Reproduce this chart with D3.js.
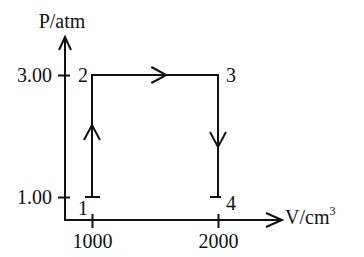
<!DOCTYPE html>
<html><head><meta charset="utf-8">
<script src="https://cdn.jsdelivr.net/npm/d3@7"></script>
<style>html,body{margin:0;padding:0;background:#fff;}svg{display:block;}</style>
</head><body>
<svg id="c" width="364" height="257"></svg>
<script>
// Data
const stateLabels = ["1", "2", "3", "4"];
const volumes = [1000, 1000, 2000, 2000];     // cm^3
const pressures = [1.00, 3.00, 3.00, 1.00];   // atm
const xTicks = [1000, 2000];
const yTicks = [1.00, 3.00];
const xTickLabels = ["1000", "2000"];
const yTickLabels = ["3.00", "1.00"].reverse();

const svg = d3.select("#c");
const ink = "#111";
const font = "'Liberation Serif','Times New Roman',serif";

const x = d3.scaleLinear().domain([1000, 2000]).range([92, 218]);
const y = d3.scaleLinear().domain([1, 3]).range([197, 75]);

const x0 = 65, y0 = 220, xEnd = 282, yEnd = 37;

// Axes lines
svg.append("line").attr("x1", x0).attr("y1", y0).attr("x2", xEnd).attr("y2", y0)
  .attr("stroke", ink).attr("stroke-width", 2);
svg.append("line").attr("x1", x0).attr("y1", y0 + 1).attr("x2", x0).attr("y2", yEnd)
  .attr("stroke", ink).attr("stroke-width", 2);
// axis arrowheads (open chevrons)
svg.append("path").attr("d", `M${xEnd - 16},${y0 - 7}L${xEnd},${y0}L${xEnd - 16},${y0 + 7}`)
  .attr("fill", "none").attr("stroke", ink).attr("stroke-width", 2);
svg.append("path").attr("d", `M${x0 - 6},${yEnd + 13}L${x0},${yEnd}L${x0 + 6},${yEnd + 13}`)
  .attr("fill", "none").attr("stroke", ink).attr("stroke-width", 2);

// Axis ticks via d3 axes
const xAxis = d3.axisBottom(x).tickValues(xTicks).tickSize(7).tickFormat((d, i) => xTickLabels[i]);
const gx = svg.append("g").attr("transform", `translate(0,${y0})`).call(xAxis);
gx.select(".domain").remove();
gx.selectAll(".tick line").attr("y1", -6).attr("y2", 8).attr("stroke", ink).attr("stroke-width", 2);
gx.selectAll(".tick text").attr("y", 28).attr("dy", 0).attr("fill", ink)
  .style("font-family", font).style("font-size", "20px");

const yAxis = d3.axisLeft(y).tickValues(yTicks).tickSize(7).tickFormat((d, i) => yTickLabels[i]);
const gy = svg.append("g").attr("transform", `translate(${x0},0)`).call(yAxis);
gy.select(".domain").remove();
gy.selectAll(".tick line").attr("x1", -7).attr("x2", 5).attr("stroke", ink).attr("stroke-width", 2);
gy.selectAll(".tick text").attr("x", -13).attr("dy", "0.33em").attr("fill", ink)
  .style("font-family", font).style("font-size", "20px");

// Axis titles
svg.append("text").attr("x", x0 - 3).attr("y", 28).attr("text-anchor", "middle")
  .attr("fill", ink).style("font-family", font).style("font-size", "20px").text("P/atm");
const vt = svg.append("text").attr("x", 285).attr("y", 224).attr("fill", ink)
  .style("font-family", font).style("font-size", "20px");
vt.append("tspan").text("V/cm");
vt.append("tspan").attr("dy", -9).style("font-size", "12px").text("3");

// Process path
const pts = volumes.map((v, i) => ({ v, p: pressures[i], label: stateLabels[i] }));
const line = d3.line().x(d => x(d.v)).y(d => y(d.p));
svg.append("path").datum(pts).attr("d", line).attr("fill", "none")
  .attr("stroke", ink).attr("stroke-width", 2);

// Direction chevrons on each segment
for (let i = 0; i < pts.length - 1; i++) {
  const a = pts[i], b = pts[i + 1];
  const ax = x(a.v), ay = y(a.p), bx = x(b.v), by = y(b.p);
  const len = Math.hypot(bx - ax, by - ay);
  const ux = (bx - ax) / len, uy = (by - ay) / len;
  const t = 0.59;
  const tx = ax + (bx - ax) * t, ty = ay + (by - ay) * t;
  const back = 15, side = 8;
  const p1 = [tx - ux * back - uy * side, ty - uy * back + ux * side];
  const p2 = [tx - ux * back + uy * side, ty - uy * back - ux * side];
  svg.append("path").attr("d", `M${p1}L${tx},${ty}L${p2}`)
    .attr("fill", "none").attr("stroke", ink).attr("stroke-width", 2);
}

// End caps at states 1 and 4
[pts[0], pts[3]].forEach((d, i) => {
  const cx = x(d.v), cy = y(d.p);
  const l = i === 0 ? 7 : 8, r = i === 0 ? 8 : 3;
  svg.append("line").attr("x1", cx - l).attr("x2", cx + r).attr("y1", cy).attr("y2", cy)
    .attr("stroke", ink).attr("stroke-width", 2);
});

// State labels
const labelOffsets = [[-14, 18], [-14, 7], [8, 7], [8, 13]];
svg.selectAll("text.state").data(pts).join("text").attr("class", "state")
  .attr("x", (d, i) => x(d.v) + labelOffsets[i][0])
  .attr("y", (d, i) => y(d.p) + labelOffsets[i][1])
  .attr("fill", ink).style("font-family", font).style("font-size", "20px")
  .text(d => d.label);
</script>
</body></html>
